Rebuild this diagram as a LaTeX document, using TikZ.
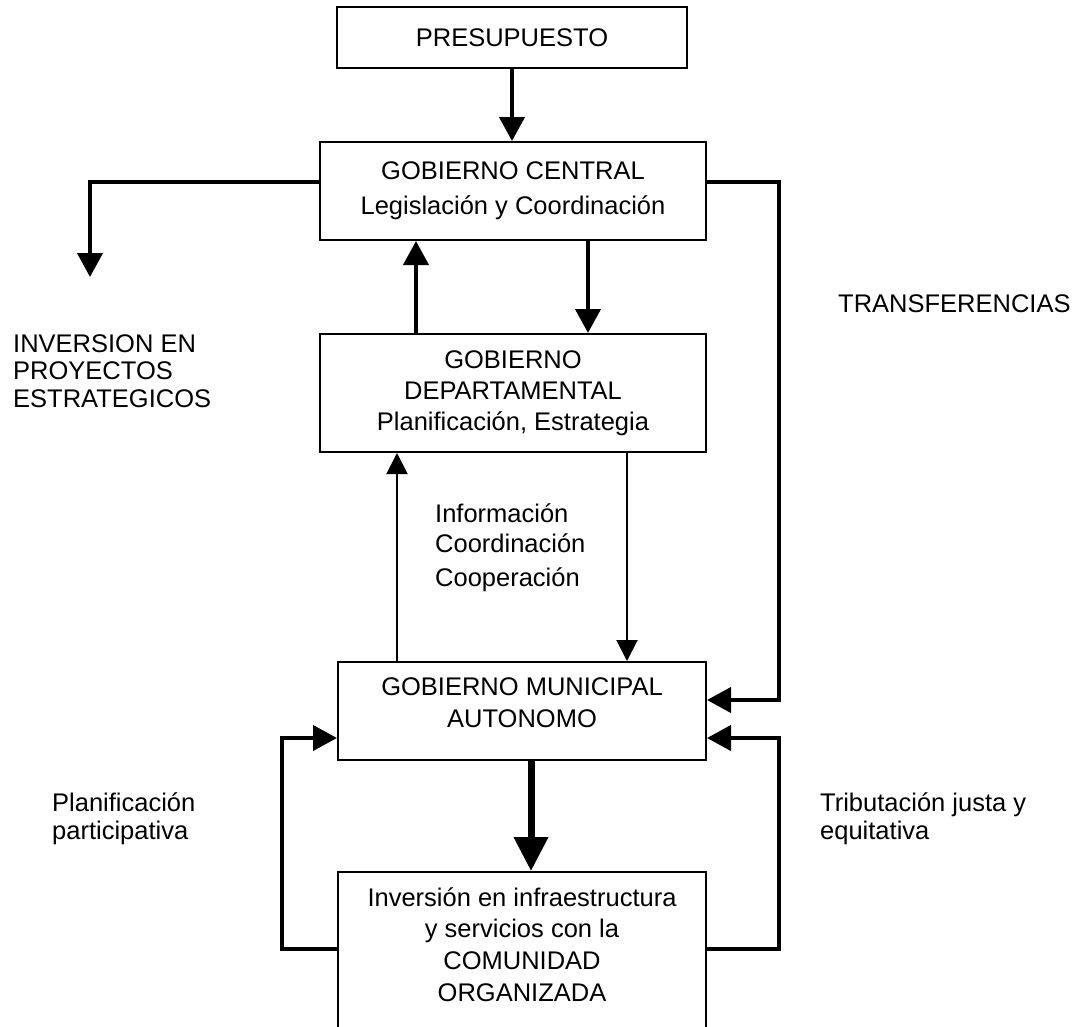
\documentclass[tikz,border=0pt]{standalone}
\usepackage{fontspec}
\setmainfont{Liberation Sans}
\usetikzlibrary{arrows.meta}
\begin{document}
\begin{tikzpicture}[x=1pt,y=-1pt,
  box/.style={draw, line width=2pt, align=center, inner sep=0pt, font=\fontsize{25.5}{31}\selectfont},
  lbl/.style={inner sep=0pt, align=left, anchor=north west},
  heavy/.style={line width=4pt, -{Triangle[length=24pt,width=25pt]}},
  light/.style={line width=2pt, -{Triangle[length=21pt,width=21pt]}},
  fat/.style={line width=7pt, -{Triangle[length=34pt,width=33pt]}},
]
\useasboundingbox (0,0) rectangle (1076,1026);
\clip (0,0) rectangle (1076,1026);

% boxes
\node[box, minimum width=350pt, minimum height=61pt] (pres) at (512,37.5) {PRESUPUESTO};
\node[box, minimum width=386pt, minimum height=98pt, font=\fontsize{25.5}{35}\selectfont] (gc) at (513,191) {GOBIERNO CENTRAL\\Legislación y Coordinación};
\node[box, minimum width=386pt, minimum height=118pt] (gd) at (513,393) {GOBIERNO\\DEPARTAMENTAL\\Planificación, Estrategia};
\node[box, minimum width=368pt, minimum height=98pt, font=\fontsize{25.5}{32}\selectfont] (gm) at (522,711) {GOBIERNO MUNICIPAL\\AUTONOMO\rule[-16pt]{0pt}{16pt}};
\node[box, minimum width=368pt, minimum height=168pt, font=\fontsize{25.5}{31.6}\selectfont] (inv) at (522,956) {Inversión en infraestructura\\y servicios con la\\COMUNIDAD\\ORGANIZADA\rule[-23.6pt]{0pt}{23.6pt}};

% labels
\node[lbl, font=\fontsize{25.5}{27.5}\selectfont] (inversion) at (13,334) {INVERSION EN\\PROYECTOS\\ESTRATEGICOS};
\node[lbl, font=\fontsize{25.5}{30}\selectfont] (transf) at (838,294) {TRANSFERENCIAS};
\node[lbl, font=\fontsize{25.5}{30}\selectfont] (info) at (435,503.5) {Información\\Coordinación\\[4pt]Cooperación};
\node[lbl, font=\fontsize{25.5}{28}\selectfont] (plan) at (52,792.4) {Planificación\\participativa};
\node[lbl, font=\fontsize{25.5}{28}\selectfont] (trib) at (820,792.4) {Tributación justa y\\equitativa};

\coordinate (invtip) at (90,277);

% connectors
\draw[heavy] (pres.south) -- (pres.south |- gc.north);
\draw[heavy] (gc.west |- 0,182) -- (90,182) -- (invtip);
\draw[heavy] (gc.east |- 0,182) -- (779,182) -- (779,700) -- (gm.east |- 0,700);
\draw[heavy] (gd.north -| 416,0) -- (gc.south -| 416,0);
\draw[heavy] (gc.south -| 588,0) -- (gd.north -| 588,0);
\draw[light] (gm.north -| 397,0) -- (gd.south -| 397,0);
\draw[light] (gd.south -| 627,0) -- (gm.north -| 627,0);
\draw[fat] (gm.south -| 531,0) -- (inv.north -| 531,0);
\draw[heavy] (inv.west |- 0,949) -- (282,949) -- (282,738) -- (gm.west |- 0,738);
\draw[heavy] (inv.east |- 0,949) -- (779,949) -- (779,738) -- (gm.east |- 0,738);
\end{tikzpicture}
\end{document}
